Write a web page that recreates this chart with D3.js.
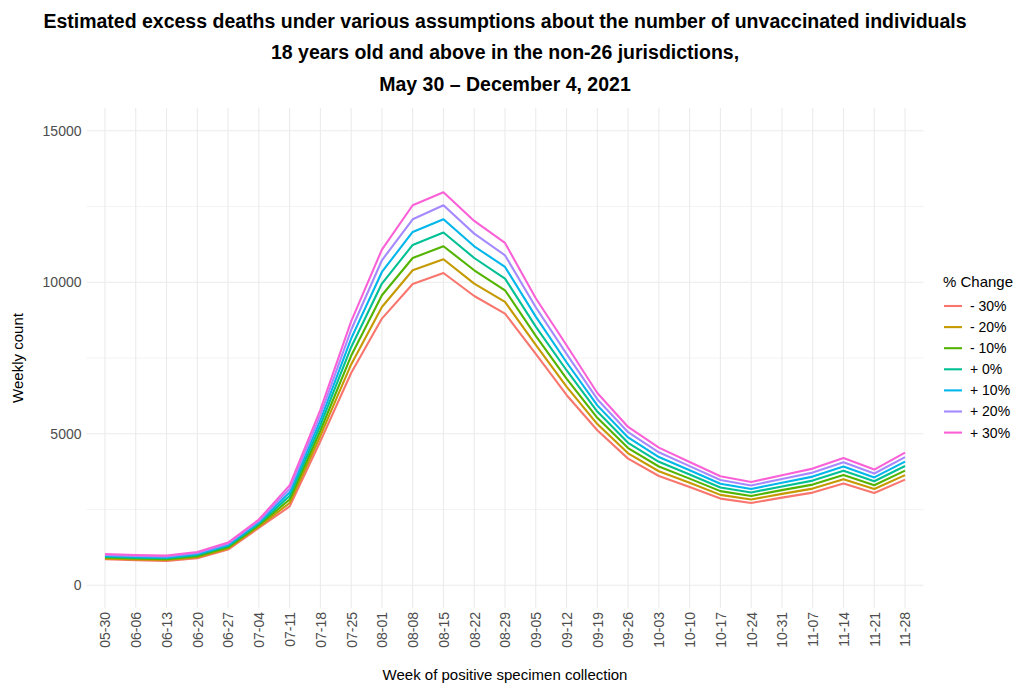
<!DOCTYPE html>
<html>
<head>
<meta charset="utf-8">
<script src="https://cdn.jsdelivr.net/npm/d3@7"></script>
<style>
  body { margin: 0; background: #fff; }
  svg { display: block; font-family: "Liberation Sans", Arial, sans-serif; }
</style>
</head>
<body>
<svg id="chart" width="1015" height="684"></svg>
<script>
const weeks = ["05-30","06-06","06-13","06-20","06-27","07-04","07-11","07-18","07-25","08-01","08-08","08-15","08-22","08-29","09-05","09-12","09-19","09-26","10-03","10-10","10-17","10-24","10-31","11-07","11-14","11-21","11-28"];

const seriesLabels = ["- 30%","- 20%","- 10%","+ 0%","+ 10%","+ 20%","+ 30%"];
const seriesColors = ["#F8766D","#C49A00","#53B400","#00C094","#00B6EB","#A58AFF","#FB61D7"];

const minus30 = [858,825,803,891,1177,1892,2600,4755,7005,8800,9943,10306,9547,8966,7635,6281,5115,4180,3607,3245,2860,2717,2893,3058,3355,3047,3487];
const minus20 = [887,854,833,926,1216,1938,2715,4928,7289,9184,10395,10758,9956,9350,7932,6555,5320,4354,3763,3383,2983,2833,3016,3190,3496,3175,3636];
const minus10 = [916,883,862,961,1254,1984,2830,5100,7573,9570,10800,11187,10395,9735,8229,6819,5526,4528,3919,3520,3106,2948,3139,3322,3637,3303,3785];
const plus0   = [945,912,892,996,1293,2030,2945,5273,7857,9956,11230,11640,10800,10120,8536,7096,5731,4702,4075,3658,3229,3064,3262,3454,3778,3432,3934];
const plus10  = [975,942,921,1030,1331,2076,3060,5445,8140,10340,11660,12078,11187,10505,8866,7360,5936,4877,4231,3795,3351,3179,3384,3586,3918,3560,4082];
const plus20  = [1004,971,951,1065,1370,2122,3175,5618,8424,10725,12078,12540,11605,10890,9175,7634,6141,5051,4387,3933,3474,3295,3507,3718,4059,3689,4231];
const plus30  = [1033,1000,980,1100,1408,2168,3290,5790,8708,11078,12540,12970,12022,11296,9472,7920,6346,5225,4543,4070,3597,3410,3630,3850,4200,3817,4380];

const seriesValues = [minus30, minus20, minus10, plus0, plus10, plus20, plus30];

const yMajor = [0, 5000, 10000, 15000];
const yMinor = [2500, 7500, 12500];

const titleLines = [
  "Estimated excess deaths under various assumptions about the number of unvaccinated individuals",
  "18 years old and above in the non-26 jurisdictions,",
  "May 30 \u2013 December 4, 2021"
];

const svg = d3.select("#chart");
const panel = {left: 86.5, right: 923.5, top: 108, bottom: 608};

const x = d3.scalePoint().domain(weeks).range([panel.left, panel.right]).padding(0.6);
const y = d3.scaleLinear().domain([-750, 15750]).range([panel.bottom, panel.top]);

const grid = svg.append("g");
grid.selectAll(".minor").data(yMinor).join("line")
  .attr("x1", panel.left).attr("x2", panel.right)
  .attr("y1", d => y(d)).attr("y2", d => y(d))
  .attr("stroke", "#ebebeb").attr("stroke-width", 0.6);
grid.selectAll(".major").data(yMajor).join("line")
  .attr("x1", panel.left).attr("x2", panel.right)
  .attr("y1", d => y(d)).attr("y2", d => y(d))
  .attr("stroke", "#ebebeb").attr("stroke-width", 1.1);
grid.selectAll(".vx").data(weeks).join("line")
  .attr("x1", d => x(d)).attr("x2", d => x(d))
  .attr("y1", panel.top).attr("y2", panel.bottom)
  .attr("stroke", "#ebebeb").attr("stroke-width", 1.1);

// Y axis
const yAxis = svg.append("g").attr("transform", `translate(${panel.left},0)`)
  .call(d3.axisLeft(y).tickValues(yMajor).tickSize(0).tickPadding(5).tickFormat(d3.format("d")));
yAxis.select(".domain").remove();
yAxis.selectAll("text").attr("fill", "#4d4d4d").style("font-size", "14px").style("font-family", "Liberation Sans, Arial, sans-serif");

// X axis
const xAxis = svg.append("g").attr("transform", `translate(0,${panel.bottom})`)
  .call(d3.axisBottom(x).tickSize(0));
xAxis.select(".domain").remove();
xAxis.selectAll("text")
  .attr("fill", "#4d4d4d").style("font-size", "14px").style("font-family", "Liberation Sans, Arial, sans-serif")
  .attr("transform", "rotate(-90)")
  .attr("text-anchor", "end")
  .attr("x", -4).attr("y", 0).attr("dy", "0.35em");

// Lines
const line = d3.line().x((d, i) => x(weeks[i])).y(d => y(d));
svg.append("g").selectAll("path").data(seriesValues).join("path")
  .attr("d", d => line(d))
  .attr("fill", "none")
  .attr("stroke", (d, i) => seriesColors[i])
  .attr("stroke-width", 2.1)
  .attr("stroke-linejoin", "round");

// Titles
const titleBaselines = [27.5, 59, 90.5];
svg.append("g").selectAll("text").data(titleLines).join("text")
  .attr("x", (panel.left + panel.right) / 2)
  .attr("y", (d, i) => titleBaselines[i])
  .attr("text-anchor", "middle")
  .style("font-size", "19.5px").style("font-weight", "bold")
  .attr("fill", "#000")
  .text(d => d);

svg.append("text")
  .attr("transform", `translate(23,${(panel.top + panel.bottom) / 2}) rotate(-90)`)
  .attr("text-anchor", "middle")
  .style("font-size", "15px").attr("fill", "#000")
  .text("Weekly count");

svg.append("text")
  .attr("x", (panel.left + panel.right) / 2).attr("y", 680)
  .attr("text-anchor", "middle")
  .style("font-size", "15px").attr("fill", "#000")
  .text("Week of positive specimen collection");

// Legend
const legend = svg.append("g");
legend.append("text").attr("x", 943).attr("y", 287)
  .style("font-size", "15px").attr("fill", "#000").text("% Change");
const items = legend.selectAll(".item").data(seriesLabels).join("g")
  .attr("transform", (d, i) => `translate(0,${306 + i * 21.1})`);
items.append("line").attr("x1", 944).attr("x2", 962).attr("y1", 0).attr("y2", 0)
  .attr("stroke", (d, i) => seriesColors[i]).attr("stroke-width", 2.1);
items.append("text").attr("x", 970).attr("y", 0).attr("dy", "0.35em")
  .style("font-size", "14px").attr("fill", "#000").text(d => d);
</script>
</body>
</html>
